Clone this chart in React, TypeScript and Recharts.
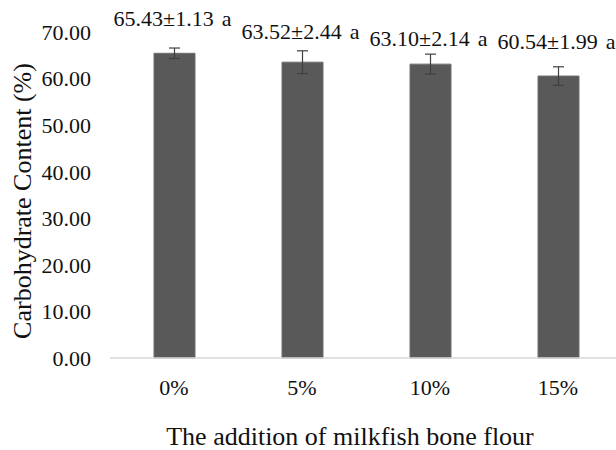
import React from "react";
import {
  BarChart,
  Bar,
  XAxis,
  YAxis,
  ErrorBar,
  LabelList,
  Label,
} from "recharts";

const categories = ["0%", "5%", "10%", "15%"];
const carbohydrate = [65.43, 63.52, 63.1, 60.54];
const stdDev = [1.13, 2.44, 2.14, 1.99];
const letters = ["a", "a", "a", "a"];
const yTicks = [0, 10, 20, 30, 40, 50, 60, 70];

const data = categories.map((name, i) => ({
  name,
  value: carbohydrate[i],
  sd: stdDev[i],
  letter: letters[i],
}));

// label lift above each bar top (px)
const labelLift = [35, 31, 26, 35];

const FONT = "'Liberation Serif', 'Times New Roman', serif";

const BarLabel = (props: any) => {
  const { x, y, width, index } = props;
  const d = data[index];
  return (
    <text
      x={x + width / 2 - 2}
      y={y - labelLift[index] + 7.5}
      textAnchor="middle"
      fontFamily={FONT}
      fontSize={22}
      fill="#111"
    >
      {`${d.value.toFixed(2)}±${d.sd.toFixed(2)}`}
      <tspan dx={8}>{d.letter}</tspan>
    </text>
  );
};

export default function App() {
  return (
    <div
      style={{
        position: "absolute",
        left: 0,
        top: 0,
        width: 616,
        height: 450,
        overflow: "hidden",
        background: "#fff",
      }}
    >
      <BarChart
        width={622}
        height={450}
        data={data}
        margin={{ top: 32, right: 0, left: 0, bottom: 0 }}
      >
        <XAxis
          dataKey="name"
          height={92}
          axisLine={{ stroke: "#d9d9d9", strokeWidth: 1.5 }}
          tickLine={false}
          tickSize={0}
          tickMargin={21}
          tick={{ fontFamily: FONT, fontSize: 22, fill: "#111" }}
        >
          <Label
            content={(p: any) => {
              const vb = p.viewBox;
              return (
                <text
                  x={vb.x + vb.width / 2 - 16}
                  y={vb.y + vb.height - 5}
                  textAnchor="middle"
                  fontFamily={FONT}
                  fontSize={26}
                  fill="#111"
                >
                  The addition of milkfish bone flour
                </text>
              );
            }}
          />
        </XAxis>
        <YAxis
          domain={[0, 70]}
          ticks={yTicks}
          width={110}
          axisLine={false}
          tickLine={false}
          tickSize={0}
          tickMargin={19}
          tickFormatter={(v: number) => v.toFixed(2)}
          tick={{ fontFamily: FONT, fontSize: 22, fill: "#111" }}
        >
          <Label
            content={(p: any) => {
              const vb = p.viewBox;
              const cx = 22;
              const cy = vb.y + vb.height / 2 + 6;
              return (
                <text
                  x={cx}
                  y={cy}
                  transform={`rotate(-90, ${cx}, ${cy})`}
                  textAnchor="middle"
                  dominantBaseline="central"
                  fontFamily={FONT}
                  fontSize={26}
                  fill="#111"
                >
                  Carbohydrate Content (%)
                </text>
              );
            }}
          />
        </YAxis>
        <Bar
          dataKey="value"
          fill="#595959"
          stroke="#6e6e6e"
          strokeWidth={1}
          barSize={41}
          isAnimationActive={false}
        >
          <ErrorBar
            dataKey="sd"
            width={5.5}
            stroke="#3f3f3f"
            strokeWidth={1.2}
            direction="y"
          />
          <LabelList dataKey="value" content={BarLabel} />
        </Bar>
      </BarChart>
    </div>
  );
}
